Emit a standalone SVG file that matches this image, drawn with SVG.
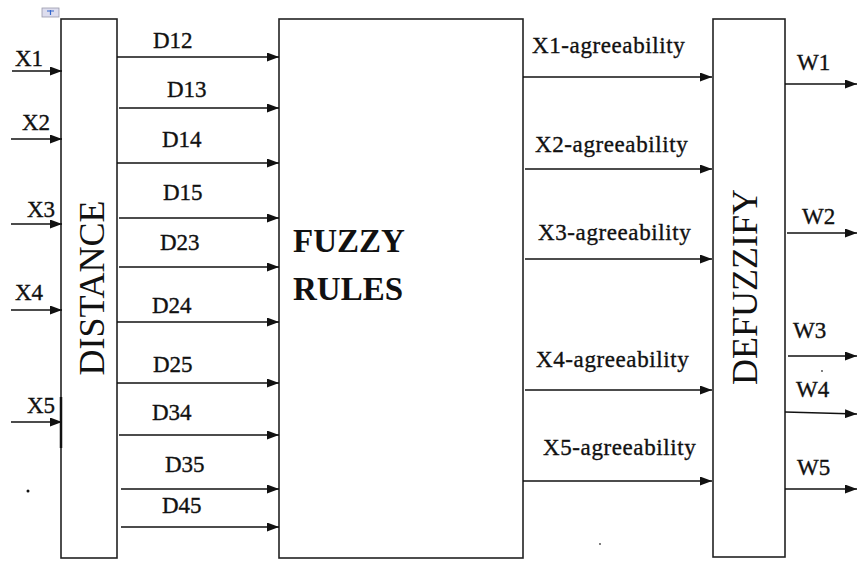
<svg xmlns="http://www.w3.org/2000/svg" width="857" height="562" viewBox="0 0 857 562">
<style>
.box{fill:#fff;stroke:#222;stroke-width:1.6}
.ln{stroke:#111;stroke-width:1.6;fill:none;marker-end:url(#ah)}
.lbl{font-family:"Liberation Serif","Times New Roman",serif;font-size:23px;fill:#111;stroke:#111;stroke-width:0.35}
.ag{letter-spacing:0.6px}
.big{font-family:"Liberation Serif","Times New Roman",serif;font-size:36px;fill:#111}
.fz{font-family:"Liberation Serif","Times New Roman",serif;font-size:33px;font-weight:bold;fill:#111}
</style>
<defs>
<marker id="ah" markerUnits="userSpaceOnUse" markerWidth="13" markerHeight="9" refX="12" refY="4.5" orient="auto">
<path d="M0,0 L12,4.5 L0,9 Z" fill="#111"/>
</marker>
</defs>
<rect width="857" height="562" fill="#fff"/>
<g id="artifacts">
<rect x="42" y="8" width="17" height="9" fill="#dde" stroke="#99a" stroke-width="0.8"/>
<path d="M47,11 h7 M50.5,10 v5" stroke="#36c" stroke-width="1.2"/>
<circle cx="28" cy="491" r="1.5" fill="#111"/>
<circle cx="399" cy="371" r="0.9" fill="#444"/>
<circle cx="600" cy="544" r="0.9" fill="#444"/>
<circle cx="822" cy="371" r="0.9" fill="#444"/>
</g>
<g id="distance">
<rect class="box" x="61" y="19" width="56" height="539"/>
<line x1="61" y1="397" x2="61" y2="448" stroke="#111" stroke-width="2.5"/>
<text class="big" transform="translate(104,288) rotate(-90)" text-anchor="middle">DISTANCE</text>
</g>
<g id="fuzzy-rules">
<rect class="box" x="279" y="19" width="244" height="539"/>
<text class="fz" x="293" y="252">FUZZY</text>
<text class="fz" x="293" y="300">RULES</text>
</g>
<g id="defuzzify">
<rect class="box" x="713" y="19" width="72" height="538"/>
<text class="big" transform="translate(757,287) rotate(-90)" text-anchor="middle">DEFUZZIFY</text>
</g>
<g id="connectors">
<line class="ln" x1="12" y1="71" x2="62" y2="71"/>
<line class="ln" x1="11" y1="139" x2="62" y2="139"/>
<line class="ln" x1="11" y1="224" x2="62" y2="224"/>
<line class="ln" x1="11" y1="310" x2="62" y2="310"/>
<line class="ln" x1="11" y1="422" x2="62" y2="422"/>
<line class="ln" x1="117" y1="57" x2="279" y2="57"/>
<line class="ln" x1="119" y1="108" x2="279" y2="108"/>
<line class="ln" x1="117" y1="163" x2="279" y2="163"/>
<line class="ln" x1="119" y1="218" x2="279" y2="218"/>
<line class="ln" x1="119" y1="267" x2="279" y2="267"/>
<line class="ln" x1="117" y1="322" x2="279" y2="322"/>
<line class="ln" x1="117" y1="383" x2="279" y2="383"/>
<line class="ln" x1="119" y1="435" x2="279" y2="435"/>
<line class="ln" x1="121" y1="489" x2="279" y2="489"/>
<line class="ln" x1="121" y1="527" x2="279" y2="527"/>
<line class="ln" x1="523" y1="77" x2="712" y2="77"/>
<line class="ln" x1="525" y1="169" x2="712" y2="169"/>
<line class="ln" x1="525" y1="259" x2="712" y2="259"/>
<line class="ln" x1="525" y1="390" x2="712" y2="390"/>
<line class="ln" x1="523" y1="481" x2="712" y2="481"/>
<line class="ln" x1="785" y1="84" x2="857" y2="84"/>
<line class="ln" x1="787" y1="233" x2="857" y2="233"/>
<line class="ln" x1="788" y1="356" x2="857" y2="356"/>
<line class="ln" x1="785" y1="412" x2="857" y2="414"/>
<line class="ln" x1="785" y1="489" x2="857" y2="489"/>
</g>
<g id="labels">
<text class="lbl" x="15" y="66">X1</text>
<text class="lbl" x="22" y="130">X2</text>
<text class="lbl" x="27" y="217">X3</text>
<text class="lbl" x="15" y="300">X4</text>
<text class="lbl" x="27" y="413">X5</text>
<text class="lbl" x="153" y="48">D12</text>
<text class="lbl" x="167" y="97">D13</text>
<text class="lbl" x="162" y="147">D14</text>
<text class="lbl" x="163" y="200">D15</text>
<text class="lbl" x="160" y="250">D23</text>
<text class="lbl" x="152" y="313">D24</text>
<text class="lbl" x="153" y="372">D25</text>
<text class="lbl" x="152" y="420">D34</text>
<text class="lbl" x="165" y="472">D35</text>
<text class="lbl" x="162" y="513">D45</text>
<text class="lbl ag" x="532" y="53">X1-agreeability</text>
<text class="lbl ag" x="535" y="152">X2-agreeability</text>
<text class="lbl ag" x="538" y="240">X3-agreeability</text>
<text class="lbl ag" x="536" y="367">X4-agreeability</text>
<text class="lbl ag" x="543" y="455">X5-agreeability</text>
<text class="lbl" x="797" y="70">W1</text>
<text class="lbl" x="802" y="224">W2</text>
<text class="lbl" x="793" y="338">W3</text>
<text class="lbl" x="796" y="397">W4</text>
<text class="lbl" x="797" y="475">W5</text>
</g>
</svg>
